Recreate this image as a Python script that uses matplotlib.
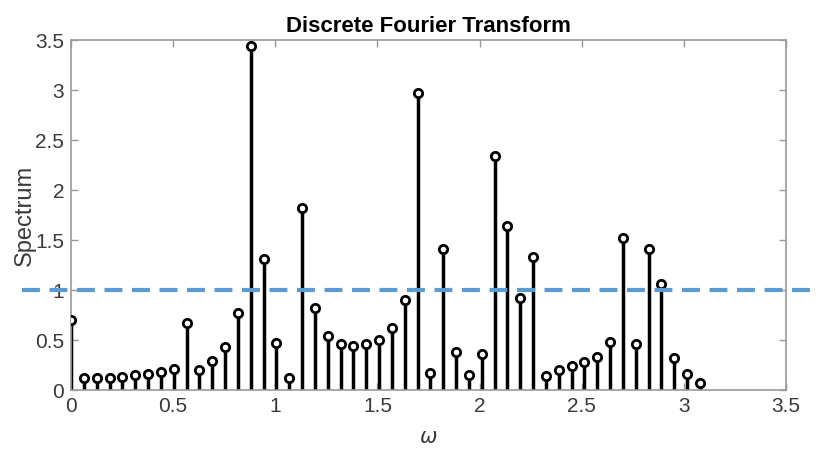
import numpy as np
import matplotlib
matplotlib.use('Agg')
import matplotlib.pyplot as plt

plt.rcParams['font.family'] = ['Liberation Sans', 'DejaVu Sans']

# spectrum values, one per frequency bin k = 0..49
spectrum = [0.70, 0.12, 0.12, 0.12, 0.13, 0.15, 0.16, 0.18, 0.21, 0.67,
            0.20, 0.29, 0.43, 0.77, 3.44, 1.31, 0.47, 0.12, 1.82, 0.82,
            0.54, 0.46, 0.44, 0.46, 0.50, 0.62, 0.90, 2.97, 0.17, 1.41,
            0.38, 0.15, 0.36, 2.34, 1.64, 0.92, 1.33, 0.14, 0.20, 0.24,
            0.28, 0.33, 0.48, 1.52, 0.46, 1.41, 1.06, 0.32, 0.16, 0.07]
n_fft = 100
omega = 2 * np.pi * np.arange(len(spectrum)) / n_fft
threshold = 1.0

xticks = [0, 0.5, 1, 1.5, 2, 2.5, 3, 3.5]
xticklabels = ['0', '0.5', '1', '1.5', '2', '2.5', '3', '3.5']
yticks = [0, 0.5, 1, 1.5, 2, 2.5, 3, 3.5]
yticklabels = ['0', '0.5', '1', '1.5', '2', '2.5', '3', '3.5']

fig = plt.figure(figsize=(8.2, 4.49), dpi=100)
ax = fig.add_axes([71/820, 59/449, (786-71)/820, 350/449])

grey = '#999999'
txt = '#3a3a3a'

markers, stems, base = ax.stem(omega, spectrum, basefmt=' ')
plt.setp(stems, color='black', linewidth=2.5)
plt.setp(markers, color='black', marker='o', markersize=6,
         markeredgewidth=2.0, markerfacecolor='white', zorder=4)

# threshold line drawn past the axes box, like in the original
ax.plot([-0.24, 3.7], [threshold, threshold], color='#5b9bd5', linewidth=3,
        linestyle=(0, (4.3, 2.3)), clip_on=False, zorder=5)

ax.set_xlim(0, 3.5)
ax.set_ylim(0, 3.5)
ax.set_xticks(xticks)
ax.set_xticklabels(xticklabels)
ax.set_yticks(yticks)
ax.set_yticklabels(yticklabels)

for s in ax.spines.values():
    s.set_color(grey)
    s.set_linewidth(1.2)
ax.tick_params(direction='in', length=5, width=1, color=grey, labelcolor=txt,
               labelsize=15, top=True, right=True, pad=5)

ax.set_title('Discrete Fourier Transform', fontsize=16, fontweight='bold',
             color='black', pad=6)
ax.set_ylabel('Spectrum', fontsize=17, color=txt, labelpad=-1)
ax.set_xlabel(r'$\omega$', fontsize=15, color=txt, labelpad=9)

fig.savefig('out.png', dpi=100)
